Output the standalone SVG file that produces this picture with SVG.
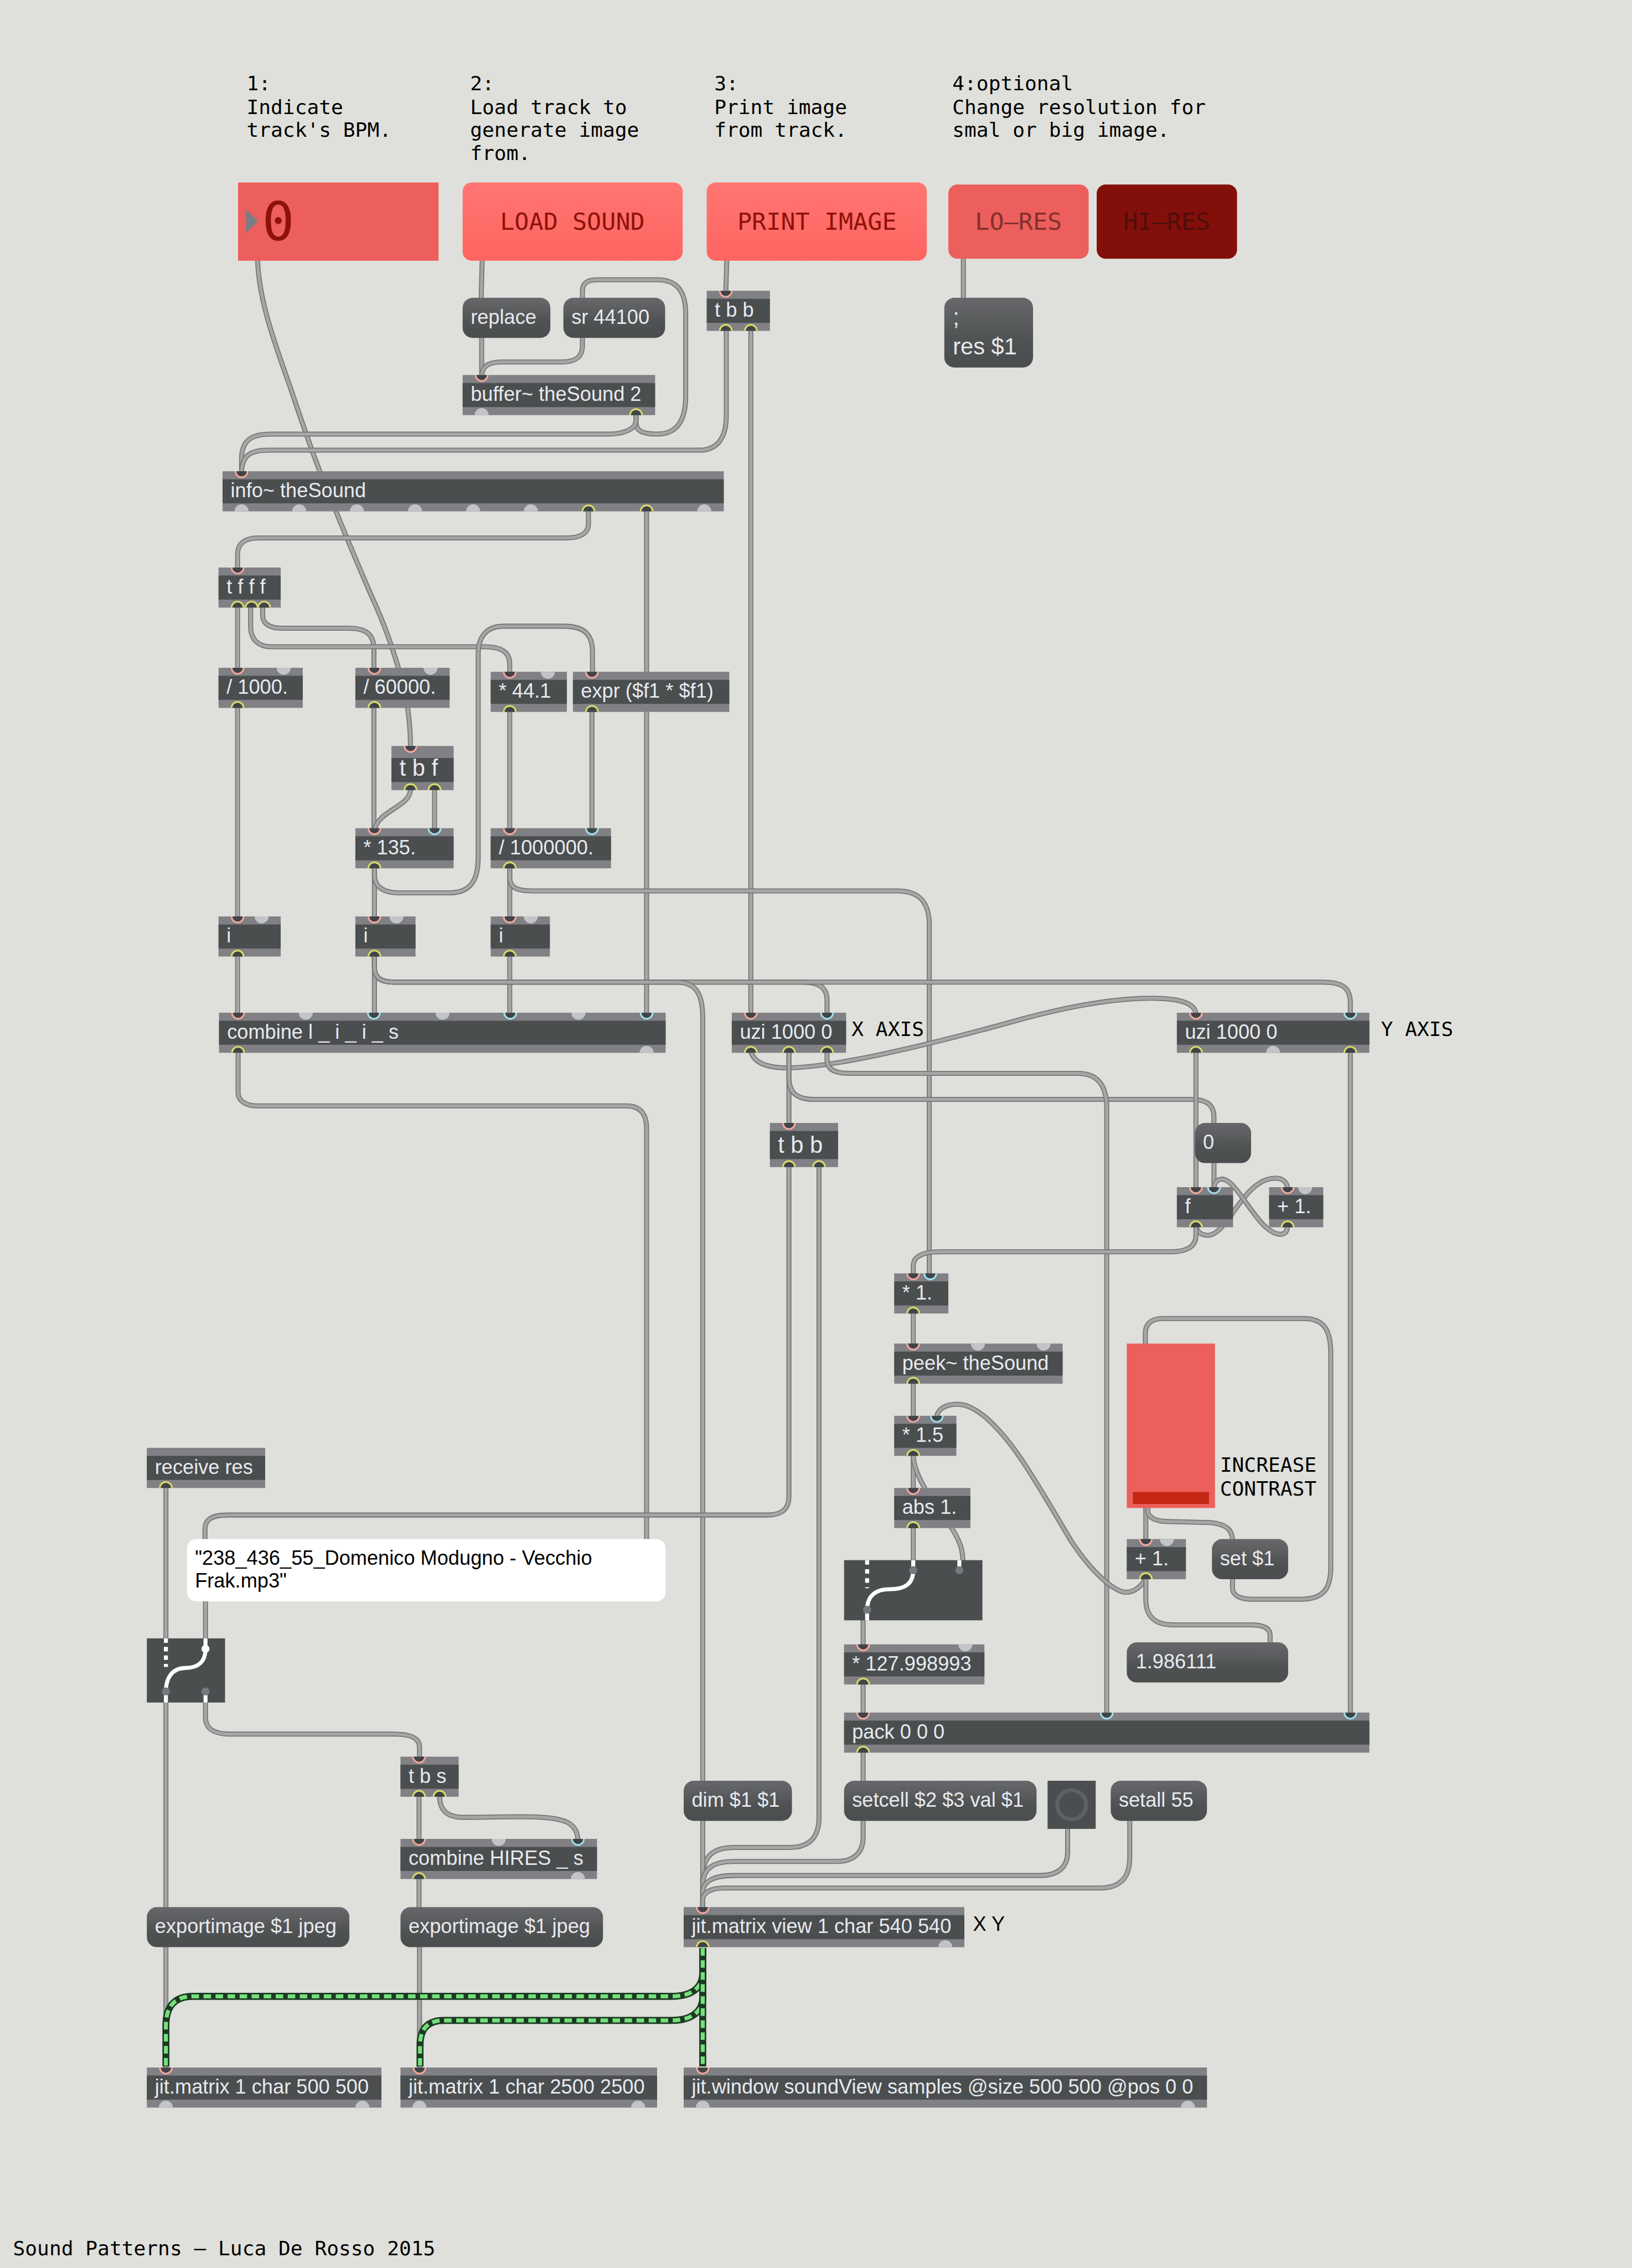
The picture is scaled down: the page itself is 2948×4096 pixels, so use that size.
<svg xmlns="http://www.w3.org/2000/svg" width="2948" height="4096" viewBox="0 0 2948 4096">
<style>
.bg{fill:#dfe0db}
.s{fill:#808085}
.b{fill:#4a4e4e}
.m{fill:url(#mg)}
.t{font-family:"Liberation Sans",Arial,sans-serif;font-size:40px;fill:#e8e9f0}
.tb{font-size:46px}
.k{fill:#000}
.c{font-family:"DejaVu Sans Mono","Liberation Mono",monospace;font-size:40px;fill:#000}
.lb{font-family:"DejaVu Sans Mono","Liberation Mono",monospace;font-size:48px;text-anchor:middle}
.w{fill:none;stroke-linecap:round}
.o{stroke:#767676;stroke-width:10}
.i{stroke:#a6a6a6;stroke-width:6}
.go{fill:none;stroke:#1c3a22;stroke-width:14}
.gi{fill:none;stroke:#74e07c;stroke-width:8;stroke-dasharray:15 9}
.sw{fill:none;stroke:#fff;stroke-width:8}
.dot{fill:#76797c}
</style>
<defs>
<linearGradient id="mg" x1="0" y1="0" x2="0" y2="1"><stop offset="0" stop-color="#67686b"/><stop offset="0.6" stop-color="#4f5252"/><stop offset="1" stop-color="#4a4e4e"/></linearGradient>
<linearGradient id="rg" x1="0" y1="0" x2="0" y2="1"><stop offset="0" stop-color="#ff7672"/><stop offset="1" stop-color="#ff6460"/></linearGradient>
<path id="ih" d="M-12 0A12 12 0 0 0 12 0" fill="#3f4446" stroke="#f3a69c" stroke-width="3.5"/>
<path id="ic" d="M-12 0A12 12 0 0 0 12 0" fill="#3f4446" stroke="#9fdfea" stroke-width="3.5"/>
<path id="iu" d="M-14 0A14 14 0 0 0 14 0Z" fill="#c3c4c8"/>
<path id="oc" d="M-12 0A12 12 0 0 1 12 0" fill="#3f4446" stroke="#d8d86c" stroke-width="3.5"/>
<path id="ou" d="M-14 0A14 14 0 0 1 14 0Z" fill="#c3c4c8"/>
</defs>
<rect class="bg" width="2948" height="4096"/>
<g transform="scale(0.90541)">
<g id="comments">
<text class="c" x="492" y="180">1:</text><text class="c" x="492" y="227">Indicate</text><text class="c" x="492" y="273">track's BPM.</text>
<text class="c" x="938" y="180">2:</text><text class="c" x="938" y="227">Load track to</text><text class="c" x="938" y="273">generate image</text><text class="c" x="938" y="319">from.</text>
<text class="c" x="1425" y="180">3:</text><text class="c" x="1425" y="227">Print image</text><text class="c" x="1425" y="273">from track.</text>
<text class="c" x="1900" y="180">4:optional</text><text class="c" x="1900" y="227">Change resolution for</text><text class="c" x="1900" y="273">smal or big image.</text>
<text class="c" x="1699" y="2067">X AXIS</text>
<text class="c" x="2755" y="2067">Y AXIS</text>
<text class="c" x="2434" y="2936">INCREASE</text><text class="c" x="2434" y="2983">CONTRAST</text>
<text class="c" x="1941" y="3851" style="font-family:'Liberation Sans',sans-serif">X Y</text>
<text class="c" x="26" y="4498">Sound Patterns – Luca De Rosso 2015</text>
</g>
<g id="connectors">
<path class="w o" d="M514 518C516 600 550 690 581 778C600 835 615 880 638 940C670 1020 715 1130 751 1211C775 1265 795 1330 808 1380C815 1420 819 1450 819 1490"/><path class="w i" d="M514 518C516 600 550 690 581 778C600 835 615 880 638 940C670 1020 715 1130 751 1211C775 1265 795 1330 808 1380C815 1420 819 1450 819 1490"/>
<path class="w o" d="M962 518L960 594"/><path class="w i" d="M962 518L960 594"/>
<path class="w o" d="M961 674V752"/><path class="w i" d="M961 674V752"/>
<path class="w o" d="M1162 674V690C1162 715 1145 722 1120 722H1000C975 722 961 730 961 752"/><path class="w i" d="M1162 674V690C1162 715 1145 722 1120 722H1000C975 722 961 730 961 752"/>
<path class="w o" d="M1269 826V845C1269 862 1290 866 1310 866C1350 866 1368 840 1368 790V625C1368 580 1350 558 1311 558H1192C1172 558 1162 565 1162 580V596"/><path class="w i" d="M1269 826V845C1269 862 1290 866 1310 866C1350 866 1368 840 1368 790V625C1368 580 1350 558 1311 558H1192C1172 558 1162 565 1162 580V596"/>
<path class="w o" d="M1269 826V838C1269 858 1240 866 1213 866H540C500 866 482 880 482 915V944"/><path class="w i" d="M1269 826V838C1269 858 1240 866 1213 866H540C500 866 482 880 482 915V944"/>
<path class="w o" d="M1449 658V830C1449 875 1430 898 1395 898H535C500 898 482 908 482 944"/><path class="w i" d="M1449 658V830C1449 875 1430 898 1395 898H535C500 898 482 908 482 944"/>
<path class="w o" d="M1498 658V2024"/><path class="w i" d="M1498 658V2024"/>
<path class="w o" d="M1450 518L1448 584"/><path class="w i" d="M1450 518L1448 584"/>
<path class="w o" d="M1922 516V594"/><path class="w i" d="M1922 516V594"/>
<path class="w o" d="M1174 1018V1045C1174 1065 1155 1073 1130 1073H515C488 1073 474 1085 474 1105V1136"/><path class="w i" d="M1174 1018V1045C1174 1065 1155 1073 1130 1073H515C488 1073 474 1085 474 1105V1136"/>
<path class="w o" d="M1290 1018V2024"/><path class="w i" d="M1290 1018V2024"/>
<path class="w o" d="M474 1210V1336"/><path class="w i" d="M474 1210V1336"/>
<path class="w o" d="M524 1210V1228C524 1245 540 1253 560 1253H695C730 1253 746 1265 746 1295V1336"/><path class="w i" d="M524 1210V1228C524 1245 540 1253 560 1253H695C730 1253 746 1265 746 1295V1336"/>
<path class="w o" d="M500 1210V1250C500 1275 515 1290 540 1290H965C1000 1290 1017 1300 1017 1325V1344"/><path class="w i" d="M500 1210V1250C500 1275 515 1290 540 1290H965C1000 1290 1017 1300 1017 1325V1344"/>
<path class="w o" d="M474 1410V1832"/><path class="w i" d="M474 1410V1832"/>
<path class="w o" d="M746 1410V1656"/><path class="w i" d="M746 1410V1656"/>
<path class="w o" d="M819 1574C819 1610 755 1615 747 1656"/><path class="w i" d="M819 1574C819 1610 755 1615 747 1656"/>
<path class="w o" d="M867 1574V1656"/><path class="w i" d="M867 1574V1656"/>
<path class="w o" d="M747 1730V1832"/><path class="w i" d="M747 1730V1832"/>
<path class="w o" d="M747 1730V1745C747 1772 770 1781 795 1781H895C940 1781 954 1755 954 1710V1305C954 1265 975 1249 1005 1249H1125C1165 1249 1182 1265 1182 1300V1344"/><path class="w i" d="M747 1730V1745C747 1772 770 1781 795 1781H895C940 1781 954 1755 954 1710V1305C954 1265 975 1249 1005 1249H1125C1165 1249 1182 1265 1182 1300V1344"/>
<path class="w o" d="M1017 1418V1656"/><path class="w i" d="M1017 1418V1656"/>
<path class="w o" d="M1181 1418V1656"/><path class="w i" d="M1181 1418V1656"/>
<path class="w o" d="M1017 1730V1832"/><path class="w i" d="M1017 1730V1832"/>
<path class="w o" d="M1017 1730V1750C1017 1770 1030 1777 1060 1777H1790C1835 1777 1854 1800 1854 1845V2544"/><path class="w i" d="M1017 1730V1750C1017 1770 1030 1777 1060 1777H1790C1835 1777 1854 1800 1854 1845V2544"/>
<path class="w o" d="M474 1906V2024"/><path class="w i" d="M474 1906V2024"/>
<path class="w o" d="M747 1906V2024"/><path class="w i" d="M747 1906V2024"/>
<path class="w o" d="M1017 1906V2024"/><path class="w i" d="M1017 1906V2024"/>
<path class="w o" d="M747 1906V1930C747 1950 760 1959 785 1959H1600C1635 1959 1650 1970 1650 1995V2024"/><path class="w i" d="M747 1906V1930C747 1950 760 1959 785 1959H1600C1635 1959 1650 1970 1650 1995V2024"/>
<path class="w o" d="M747 1906V1930C747 1950 760 1959 785 1959H2640C2680 1959 2694 1972 2694 2000V2024"/><path class="w i" d="M747 1906V1930C747 1950 760 1959 785 1959H2640C2680 1959 2694 1972 2694 2000V2024"/>
<path class="w o" d="M747 1906V1930C747 1950 760 1959 785 1959H1350C1390 1959 1402 1985 1402 2030V3556"/><path class="w i" d="M747 1906V1930C747 1950 760 1959 785 1959H1350C1390 1959 1402 1985 1402 2030V3556"/>
<path class="w o" d="M475 2098V2180C475 2195 490 2206 515 2206H1250C1280 2206 1290 2225 1290 2250V3074"/><path class="w i" d="M475 2098V2180C475 2195 490 2206 515 2206H1250C1280 2206 1290 2225 1290 2250V3074"/>
<path class="w o" d="M1498 2098C1505 2120 1530 2130 1570 2130C1660 2130 1850 2085 2012 2040C2100 2015 2210 1991 2298 1991C2350 1991 2386 2000 2386 2024"/><path class="w i" d="M1498 2098C1505 2120 1530 2130 1570 2130C1660 2130 1850 2085 2012 2040C2100 2015 2210 1991 2298 1991C2350 1991 2386 2000 2386 2024"/>
<path class="w o" d="M1574 2098V2244"/><path class="w i" d="M1574 2098V2244"/>
<path class="w o" d="M1574 2098V2150C1574 2180 1590 2193 1625 2193H2375C2410 2193 2422 2205 2422 2230V2244"/><path class="w i" d="M1574 2098V2150C1574 2180 1590 2193 1625 2193H2375C2410 2193 2422 2205 2422 2230V2244"/>
<path class="w o" d="M2422 2318V2372"/><path class="w i" d="M2422 2318V2372"/>
<path class="w o" d="M1650 2098V2115C1650 2132 1665 2141 1695 2141H2150C2190 2141 2208 2165 2208 2210V3420"/><path class="w i" d="M1650 2098V2115C1650 2132 1665 2141 1695 2141H2150C2190 2141 2208 2165 2208 2210V3420"/>
<path class="w o" d="M2386 2098V2372"/><path class="w i" d="M2386 2098V2372"/>
<path class="w o" d="M2694 2098V3420"/><path class="w i" d="M2694 2098V3420"/>
<path class="w o" d="M1574 2326V2985C1574 3010 1560 3022 1530 3022H455C420 3022 409 3032 409 3050V3074"/><path class="w i" d="M1574 2326V2985C1574 3010 1560 3022 1530 3022H455C420 3022 409 3032 409 3050V3074"/>
<path class="w o" d="M410 3192V3272"/><path class="w i" d="M410 3192V3272"/>
<path class="w o" d="M1634 2326V3625C1634 3665 1615 3685 1575 3685H1465C1425 3685 1402 3700 1402 3745V3808"/><path class="w i" d="M1634 2326V3625C1634 3665 1615 3685 1575 3685H1465C1425 3685 1402 3700 1402 3745V3808"/>
<path class="w o" d="M2386 2445C2388 2458 2398 2464 2410 2464C2450 2464 2480 2350 2545 2350C2558 2350 2569 2358 2569 2372"/><path class="w i" d="M2386 2445C2388 2458 2398 2464 2410 2464C2450 2464 2480 2350 2545 2350C2558 2350 2569 2358 2569 2372"/>
<path class="w o" d="M2569 2445C2568 2458 2562 2462 2555 2462C2510 2462 2470 2352 2438 2352C2428 2352 2422 2360 2422 2372"/><path class="w i" d="M2569 2445C2568 2458 2562 2462 2555 2462C2510 2462 2470 2352 2438 2352C2428 2352 2422 2360 2422 2372"/>
<path class="w o" d="M2386 2445V2465C2386 2488 2365 2497 2335 2497H1875C1838 2497 1822 2508 1822 2525V2544"/><path class="w i" d="M2386 2445V2465C2386 2488 2365 2497 2335 2497H1875C1838 2497 1822 2508 1822 2525V2544"/>
<path class="w o" d="M1822 2617V2684"/><path class="w i" d="M1822 2617V2684"/>
<path class="w o" d="M1822 2757V2828"/><path class="w i" d="M1822 2757V2828"/>
<path class="w o" d="M1822 2902V2972"/><path class="w i" d="M1822 2902V2972"/>
<path class="w o" d="M1822 2902C1822 2950 1880 3020 1900 3050C1915 3075 1921 3090 1921 3116"/><path class="w i" d="M1822 2902C1822 2950 1880 3020 1900 3050C1915 3075 1921 3090 1921 3116"/>
<path class="w o" d="M1822 3045V3116"/><path class="w i" d="M1822 3045V3116"/>
<path class="w o" d="M1722 3228V3284"/><path class="w i" d="M1722 3228V3284"/>
<path class="w o" d="M1722 3358V3420"/><path class="w i" d="M1722 3358V3420"/>
<path class="w o" d="M1722 3493V3556"/><path class="w i" d="M1722 3493V3556"/>
<path class="w o" d="M2286 3147C2278 3165 2262 3176 2247 3176C2225 3176 2180 3140 2136 3072C2105 3020 2085 2985 2059 2944C2020 2880 1960 2801 1910 2801C1885 2801 1869 2812 1869 2828"/><path class="w i" d="M2286 3147C2278 3165 2262 3176 2247 3176C2225 3176 2180 3140 2136 3072C2105 3020 2085 2985 2059 2944C2020 2880 1960 2801 1910 2801C1885 2801 1869 2812 1869 2828"/>
<path class="w o" d="M2286 3147V3190C2286 3225 2305 3241 2340 3241H2495C2522 3241 2534 3248 2534 3262V3280"/><path class="w i" d="M2286 3147V3190C2286 3225 2305 3241 2340 3241H2495C2522 3241 2534 3248 2534 3262V3280"/>
<path class="w o" d="M2286 3003V3074"/><path class="w i" d="M2286 3003V3074"/>
<path class="w o" d="M2290 3005V3015C2292 3030 2310 3035 2335 3035L2415 3037C2445 3040 2459 3050 2459 3074"/><path class="w i" d="M2290 3005V3015C2292 3030 2310 3035 2335 3035L2415 3037C2445 3040 2459 3050 2459 3074"/>
<path class="w o" d="M2459 3147V3168C2459 3183 2475 3190 2500 3190H2595C2640 3190 2655 3170 2655 3125V2700C2655 2650 2640 2630 2600 2630H2320C2297 2630 2285 2640 2285 2660V2684"/><path class="w i" d="M2459 3147V3168C2459 3183 2475 3190 2500 3190H2595C2640 3190 2655 3170 2655 3125V2700C2655 2650 2640 2630 2600 2630H2320C2297 2630 2285 2640 2285 2660V2684"/>
<path class="w o" d="M331 2966V3272"/><path class="w i" d="M331 2966V3272"/>
<path class="w o" d="M331 3392V3808"/><path class="w i" d="M331 3392V3808"/>
<path class="w o" d="M410 3392V3425C410 3448 425 3459 460 3459H785C822 3459 837 3468 837 3485V3508"/><path class="w i" d="M410 3392V3425C410 3448 425 3459 460 3459H785C822 3459 837 3468 837 3485V3508"/>
<path class="w o" d="M836 3581V3672"/><path class="w i" d="M836 3581V3672"/>
<path class="w o" d="M877 3581C877 3610 890 3625 925 3625C980 3625 1020 3623 1065 3624C1125 3626 1153 3635 1153 3672"/><path class="w i" d="M877 3581C877 3610 890 3625 925 3625C980 3625 1020 3623 1065 3624C1125 3626 1153 3635 1153 3672"/>
<path class="w o" d="M836 3746V3808"/><path class="w i" d="M836 3746V3808"/>
<path class="w o" d="M331 3882V4128"/><path class="w i" d="M331 3882V4128"/>
<path class="w o" d="M837 3882V4128"/><path class="w i" d="M837 3882V4128"/>
<path class="w o" d="M1402 3630V3808"/><path class="w i" d="M1402 3630V3808"/>
<path class="w o" d="M1722 3630V3665C1722 3698 1700 3713 1670 3713H1465C1425 3713 1402 3725 1402 3760V3808"/><path class="w i" d="M1722 3630V3665C1722 3698 1700 3713 1670 3713H1465C1425 3713 1402 3725 1402 3760V3808"/>
<path class="w o" d="M2130 3645V3695C2130 3725 2110 3741 2075 3741H1465C1425 3741 1402 3752 1402 3775V3808"/><path class="w i" d="M2130 3645V3695C2130 3725 2110 3741 2075 3741H1465C1425 3741 1402 3752 1402 3775V3808"/>
<path class="w o" d="M2254 3630V3705C2254 3745 2235 3766 2195 3766H1445C1418 3766 1402 3775 1402 3790V3808"/><path class="w i" d="M2254 3630V3705C2254 3745 2235 3766 2195 3766H1445C1418 3766 1402 3775 1402 3790V3808"/>
<path class="go" d="M1402 3886V3935C1402 3965 1380 3982 1340 3982H385C350 3982 331 4000 331 4040V4122"/><path class="gi" d="M1402 3886V3935C1402 3965 1380 3982 1340 3982H385C350 3982 331 4000 331 4040V4122"/>
<path class="go" d="M1402 3886V3985C1402 4012 1380 4030 1340 4030H885C855 4030 838 4045 838 4080V4122"/><path class="gi" d="M1402 3886V3985C1402 4012 1380 4030 1340 4030H885C855 4030 838 4045 838 4080V4122"/>
<path class="go" d="M1402 3886V4122"/><path class="gi" d="M1402 3886V4122"/>
</g>
<g id="n-bpm"><rect x="475" y="364" width="400" height="156" fill="#ec5f5c"/><path d="M491 418L515 441L491 465Z" fill="#7a7d82"/><text x="523" y="479" font-family="'DejaVu Sans Mono',monospace" font-size="107" fill="#8f1209">0</text></g>
<g id="n-load"><rect x="923" y="364" width="439" height="156" rx="18" fill="url(#rg)"/><text class="lb" x="1142" y="458" fill="#8f1209">LOAD SOUND</text></g>
<g id="n-print"><rect x="1410" y="364" width="439" height="156" rx="18" fill="url(#rg)"/><text class="lb" x="1630" y="458" fill="#8f1209">PRINT IMAGE</text></g>
<g id="n-lores"><rect x="1892" y="368" width="280" height="148" rx="18" fill="#ec5f5c"/><text class="lb" x="2032" y="458" fill="#85302e">LO–RES</text></g>
<g id="n-hires"><rect x="2188" y="368" width="280" height="148" rx="18" fill="#830f0a"/><text class="lb" x="2328" y="458" fill="#4e0e0a">HI–RES</text></g>
<g id="n-replace"><rect class="m" x="923" y="594" width="175" height="80" rx="20"/><text class="t" x="939" y="646">replace</text></g>
<g id="n-sr"><rect class="m" x="1124" y="594" width="203" height="80" rx="20"/><text class="t" x="1140" y="646">sr 44100</text></g>
<g id="n-res"><rect class="m" x="1884" y="594" width="177" height="139" rx="20"/><text class="t tb" x="1901" y="648">;</text><text class="t tb" x="1901" y="707">res $1</text></g>
<g id="n-buffer"><rect class="s" x="923" y="748" width="384" height="80"/><rect class="b" x="923" y="764" width="384" height="48"/><text class="t" x="939" y="800">buffer~ theSound 2</text><use href="#ih" x="961" y="748"/><use href="#ou" x="961" y="828"/><use href="#oc" x="1269" y="828"/></g>
<g id="n-tbb1"><rect class="s" x="1410" y="580" width="126" height="80"/><rect class="b" x="1410" y="596" width="126" height="48"/><text class="t" x="1426" y="632">t b b</text><use href="#ih" x="1448" y="580"/><use href="#oc" x="1448" y="660"/><use href="#oc" x="1498" y="660"/></g>
<g id="n-info"><rect class="s" x="444" y="940" width="1000" height="80"/><rect class="b" x="444" y="956" width="1000" height="48"/><text class="t" x="460" y="992">info~ theSound</text><use href="#ih" x="482" y="940"/><use href="#ou" x="482" y="1020"/><use href="#ou" x="597" y="1020"/><use href="#ou" x="712" y="1020"/><use href="#ou" x="828" y="1020"/><use href="#ou" x="944" y="1020"/><use href="#ou" x="1059" y="1020"/><use href="#oc" x="1174" y="1020"/><use href="#oc" x="1290" y="1020"/><use href="#ou" x="1405" y="1020"/></g>
<g id="n-tfff"><rect class="s" x="436" y="1132" width="124" height="80"/><rect class="b" x="436" y="1148" width="124" height="48"/><text class="t" x="452" y="1184">t f f f</text><use href="#ih" x="474" y="1132"/><use href="#oc" x="474" y="1212"/><use href="#oc" x="502" y="1212"/><use href="#oc" x="527" y="1212"/></g>
<g id="n-div1000"><rect class="s" x="436" y="1332" width="168" height="80"/><rect class="b" x="436" y="1348" width="168" height="48"/><text class="t" x="452" y="1384">/ 1000.</text><use href="#ih" x="474" y="1332"/><use href="#iu" x="566" y="1332"/><use href="#oc" x="474" y="1412"/></g>
<g id="n-div60000"><rect class="s" x="709" y="1332" width="188" height="80"/><rect class="b" x="709" y="1348" width="188" height="48"/><text class="t" x="725" y="1384">/ 60000.</text><use href="#ih" x="747" y="1332"/><use href="#iu" x="859" y="1332"/><use href="#oc" x="747" y="1412"/></g>
<g id="n-mul441"><rect class="s" x="979" y="1340" width="152" height="80"/><rect class="b" x="979" y="1356" width="152" height="48"/><text class="t" x="995" y="1392">* 44.1</text><use href="#ih" x="1017" y="1340"/><use href="#iu" x="1093" y="1340"/><use href="#oc" x="1017" y="1420"/></g>
<g id="n-expr"><rect class="s" x="1143" y="1340" width="312" height="80"/><rect class="b" x="1143" y="1356" width="312" height="48"/><text class="t" x="1159" y="1392">expr ($f1 * $f1)</text><use href="#ih" x="1181" y="1340"/><use href="#oc" x="1181" y="1420"/></g>
<g id="n-tbf"><rect class="s" x="781" y="1488" width="124" height="88"/><rect class="b" x="781" y="1512" width="124" height="48"/><text class="t tb" x="797" y="1547">t b f</text><use href="#ih" x="819" y="1488"/><use href="#oc" x="819" y="1576"/><use href="#oc" x="867" y="1576"/></g>
<g id="n-mul135"><rect class="s" x="709" y="1652" width="196" height="80"/><rect class="b" x="709" y="1668" width="196" height="48"/><text class="t" x="725" y="1704">* 135.</text><use href="#ih" x="747" y="1652"/><use href="#ic" x="867" y="1652"/><use href="#oc" x="747" y="1732"/></g>
<g id="n-div1m"><rect class="s" x="979" y="1652" width="240" height="80"/><rect class="b" x="979" y="1668" width="240" height="48"/><text class="t" x="995" y="1704">/ 1000000.</text><use href="#ih" x="1017" y="1652"/><use href="#ic" x="1181" y="1652"/><use href="#oc" x="1017" y="1732"/></g>
<g id="n-i1"><rect class="s" x="436" y="1828" width="124" height="80"/><rect class="b" x="436" y="1844" width="124" height="48"/><text class="t" x="452" y="1880">i</text><use href="#ih" x="474" y="1828"/><use href="#iu" x="522" y="1828"/><use href="#oc" x="474" y="1908"/></g>
<g id="n-i2"><rect class="s" x="709" y="1828" width="120" height="80"/><rect class="b" x="709" y="1844" width="120" height="48"/><text class="t" x="725" y="1880">i</text><use href="#ih" x="747" y="1828"/><use href="#iu" x="791" y="1828"/><use href="#oc" x="747" y="1908"/></g>
<g id="n-i3"><rect class="s" x="979" y="1828" width="118" height="80"/><rect class="b" x="979" y="1844" width="118" height="48"/><text class="t" x="995" y="1880">i</text><use href="#ih" x="1017" y="1828"/><use href="#iu" x="1059" y="1828"/><use href="#oc" x="1017" y="1908"/></g>
<g id="n-combine"><rect class="s" x="437" y="2020" width="891" height="80"/><rect class="b" x="437" y="2036" width="891" height="48"/><text class="t" x="453" y="2072">combine l _ i _ i _ s</text><use href="#ih" x="475" y="2020"/><use href="#iu" x="610" y="2020"/><use href="#ic" x="746" y="2020"/><use href="#iu" x="883" y="2020"/><use href="#ic" x="1018" y="2020"/><use href="#iu" x="1154" y="2020"/><use href="#ic" x="1290" y="2020"/><use href="#oc" x="475" y="2100"/><use href="#ou" x="1290" y="2100"/></g>
<g id="n-uzix"><rect class="s" x="1460" y="2020" width="228" height="80"/><rect class="b" x="1460" y="2036" width="228" height="48"/><text class="t" x="1476" y="2072">uzi 1000 0</text><use href="#ih" x="1498" y="2020"/><use href="#ic" x="1650" y="2020"/><use href="#oc" x="1498" y="2100"/><use href="#oc" x="1574" y="2100"/><use href="#oc" x="1650" y="2100"/></g>
<g id="n-uziy"><rect class="s" x="2348" y="2020" width="384" height="80"/><rect class="b" x="2348" y="2036" width="384" height="48"/><text class="t" x="2364" y="2072">uzi 1000 0</text><use href="#ih" x="2386" y="2020"/><use href="#ic" x="2694" y="2020"/><use href="#oc" x="2386" y="2100"/><use href="#ou" x="2540" y="2100"/><use href="#oc" x="2694" y="2100"/></g>
<g id="n-tbb2"><rect class="s" x="1536" y="2240" width="136" height="88"/><rect class="b" x="1536" y="2256" width="136" height="56"/><text class="t tb" x="1552" y="2299">t b b</text><use href="#ih" x="1574" y="2240"/><use href="#oc" x="1574" y="2328"/><use href="#oc" x="1634" y="2328"/></g>
<g id="n-zero"><rect class="m" x="2384" y="2240" width="112" height="80" rx="20"/><text class="t" x="2400" y="2292">0</text></g>
<g id="n-f"><rect class="s" x="2348" y="2368" width="112" height="80"/><rect class="b" x="2348" y="2384" width="112" height="48"/><text class="t" x="2364" y="2420">f</text><use href="#ih" x="2386" y="2368"/><use href="#ic" x="2422" y="2368"/><use href="#oc" x="2386" y="2448"/></g>
<g id="n-add1"><rect class="s" x="2532" y="2368" width="108" height="80"/><rect class="b" x="2532" y="2384" width="108" height="48"/><text class="t" x="2548" y="2420">+ 1.</text><use href="#ih" x="2569" y="2368"/><use href="#iu" x="2604" y="2368"/><use href="#oc" x="2569" y="2448"/></g>
<g id="n-mul1"><rect class="s" x="1784" y="2540" width="108" height="80"/><rect class="b" x="1784" y="2556" width="108" height="48"/><text class="t" x="1800" y="2592">* 1.</text><use href="#ih" x="1822" y="2540"/><use href="#ic" x="1856" y="2540"/><use href="#oc" x="1822" y="2620"/></g>
<g id="n-peek"><rect class="s" x="1784" y="2680" width="336" height="80"/><rect class="b" x="1784" y="2696" width="336" height="48"/><text class="t" x="1800" y="2732">peek~ theSound</text><use href="#ih" x="1822" y="2680"/><use href="#iu" x="1951" y="2680"/><use href="#iu" x="2082" y="2680"/><use href="#oc" x="1822" y="2760"/></g>
<g id="n-mul15"><rect class="s" x="1784" y="2824" width="124" height="80"/><rect class="b" x="1784" y="2840" width="124" height="48"/><text class="t" x="1800" y="2876">* 1.5</text><use href="#ih" x="1822" y="2824"/><use href="#ic" x="1869" y="2824"/><use href="#oc" x="1822" y="2904"/></g>
<g id="n-abs"><rect class="s" x="1784" y="2968" width="152" height="80"/><rect class="b" x="1784" y="2984" width="152" height="48"/><text class="t" x="1800" y="3020">abs 1.</text><use href="#ih" x="1822" y="2968"/><use href="#oc" x="1822" y="3048"/></g>
<g id="n-gswitch2"><rect class="b" x="1684" y="3112" width="276" height="120"/><path class="sw" d="M1730 3112V3168" style="stroke-dasharray:9 9"/><path class="sw" d="M1822 3112V3132C1822 3160 1805 3170 1775 3170C1745 3170 1730 3185 1730 3211V3232"/><path class="sw" d="M1914 3112V3132"/><circle class="dot" cx="1822" cy="3132" r="8"/><circle class="dot" cx="1914" cy="3132" r="8"/><circle class="dot" cx="1730" cy="3211" r="8"/></g>
<g id="n-mul127"><rect class="s" x="1684" y="3280" width="280" height="80"/><rect class="b" x="1684" y="3296" width="280" height="48"/><text class="t" x="1700" y="3332">* 127.998993</text><use href="#ih" x="1722" y="3280"/><use href="#iu" x="1926" y="3280"/><use href="#oc" x="1722" y="3360"/></g>
<g id="n-slider"><rect x="2248" y="2680" width="176" height="328" fill="#ec5f5c"/><rect x="2260" y="2976" width="152" height="24" fill="#c42813"/></g>
<g id="n-add2"><rect class="s" x="2248" y="3070" width="118" height="80"/><rect class="b" x="2248" y="3086" width="118" height="48"/><text class="t" x="2264" y="3122">+ 1.</text><use href="#ih" x="2286" y="3070"/><use href="#iu" x="2328" y="3070"/><use href="#oc" x="2286" y="3150"/></g>
<g id="n-set"><rect class="m" x="2418" y="3070" width="152" height="80" rx="20"/><text class="t" x="2434" y="3122">set $1</text></g>
<g id="n-val"><rect class="m" x="2248" y="3276" width="322" height="80" rx="20"/><text class="t" x="2266" y="3328">1.986111</text></g>
<g id="n-pack"><rect class="s" x="1684" y="3416" width="1048" height="80"/><rect class="b" x="1684" y="3432" width="1048" height="48"/><text class="t" x="1700" y="3468">pack 0 0 0</text><use href="#ih" x="1722" y="3416"/><use href="#ic" x="2208" y="3416"/><use href="#ic" x="2694" y="3416"/><use href="#oc" x="1722" y="3496"/></g>
<g id="n-receive"><rect class="s" x="293" y="2888" width="236" height="80"/><rect class="b" x="293" y="2904" width="236" height="48"/><text class="t" x="309" y="2940">receive res</text><use href="#oc" x="331" y="2968"/></g>
<g id="n-file"><rect x="373" y="3070" width="955" height="124" rx="18" fill="#fff"/><text class="t k" x="389" y="3121">"238_436_55_Domenico Modugno - Vecchio</text><text class="t k" x="389" y="3166">Frak.mp3"</text></g>
<g id="n-gswitch1"><rect class="b" x="293" y="3268" width="156" height="128"/><path class="sw" d="M331 3268V3325" style="stroke-dasharray:9 8"/><path class="sw" d="M410 3268V3289C410 3315 395 3327 370 3327C345 3327 331 3345 331 3374V3396"/><path class="sw" d="M410 3374V3396"/><circle cx="410" cy="3289" r="8" fill="#fff"/><circle class="dot" cx="331" cy="3374" r="8"/><circle class="dot" cx="410" cy="3374" r="8"/></g>
<g id="n-tbs"><rect class="s" x="799" y="3504" width="116" height="80"/><rect class="b" x="799" y="3520" width="116" height="48"/><text class="t" x="815" y="3556">t b s</text><use href="#ih" x="836" y="3504"/><use href="#oc" x="836" y="3584"/><use href="#oc" x="877" y="3584"/></g>
<g id="n-combinehi"><rect class="s" x="799" y="3668" width="392" height="80"/><rect class="b" x="799" y="3684" width="392" height="48"/><text class="t" x="815" y="3720">combine HIRES _ s</text><use href="#ih" x="836" y="3668"/><use href="#iu" x="995" y="3668"/><use href="#ic" x="1153" y="3668"/><use href="#oc" x="836" y="3748"/><use href="#ou" x="1153" y="3748"/></g>
<g id="n-export1"><rect class="m" x="293" y="3804" width="404" height="80" rx="20"/><text class="t" x="309" y="3856">exportimage $1 jpeg</text></g>
<g id="n-export2"><rect class="m" x="799" y="3804" width="404" height="80" rx="20"/><text class="t" x="815" y="3856">exportimage $1 jpeg</text></g>
<g id="n-dim"><rect class="m" x="1364" y="3552" width="216" height="80" rx="20"/><text class="t" x="1380" y="3604">dim $1 $1</text></g>
<g id="n-setcell"><rect class="m" x="1684" y="3552" width="384" height="80" rx="20"/><text class="t" x="1700" y="3604">setcell $2 $3 val $1</text></g>
<g id="n-button"><rect class="b" x="2090" y="3552" width="96" height="96"/><circle cx="2138" cy="3600" r="29" fill="none" stroke="#5e6163" stroke-width="8"/></g>
<g id="n-setall"><rect class="m" x="2216" y="3552" width="192" height="80" rx="20"/><text class="t" x="2232" y="3604">setall 55</text></g>
<g id="n-view"><rect class="s" x="1364" y="3804" width="560" height="80"/><rect class="b" x="1364" y="3820" width="560" height="48"/><text class="t" x="1380" y="3856">jit.matrix view 1 char 540 540</text><use href="#ih" x="1402" y="3804"/><use href="#oc" x="1402" y="3884"/><use href="#ou" x="1886" y="3884"/></g>
<g id="n-mat500"><rect class="s" x="293" y="4124" width="468" height="80"/><rect class="b" x="293" y="4140" width="468" height="48"/><text class="t" x="309" y="4176">jit.matrix 1 char 500 500</text><use href="#ih" x="331" y="4124"/><use href="#ou" x="331" y="4204"/><use href="#ou" x="723" y="4204"/></g>
<g id="n-mat2500"><rect class="s" x="799" y="4124" width="512" height="80"/><rect class="b" x="799" y="4140" width="512" height="48"/><text class="t" x="815" y="4176">jit.matrix 1 char 2500 2500</text><use href="#ih" x="837" y="4124"/><use href="#ou" x="837" y="4204"/><use href="#ou" x="1273" y="4204"/></g>
<g id="n-window"><rect class="s" x="1364" y="4124" width="1044" height="80"/><rect class="b" x="1364" y="4140" width="1044" height="48"/><text class="t" x="1380" y="4176">jit.window soundView samples @size 500 500 @pos 0 0</text><use href="#ih" x="1402" y="4124"/><use href="#ou" x="1402" y="4204"/><use href="#ou" x="2370" y="4204"/></g>
</g>
</svg>
